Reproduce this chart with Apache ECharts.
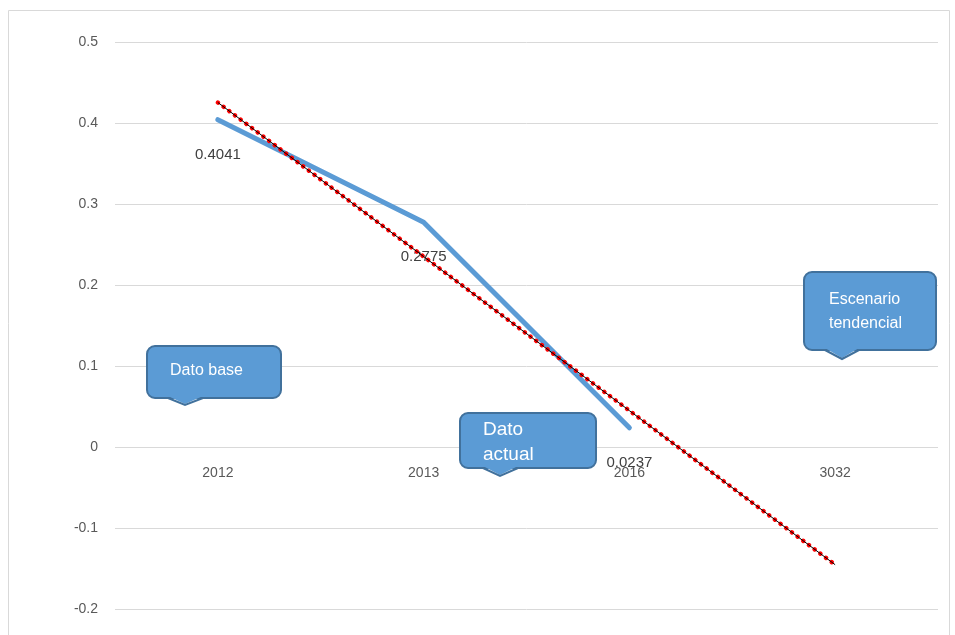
<!DOCTYPE html>
<html>
<head>
<meta charset="utf-8">
<script src="https://cdn.jsdelivr.net/npm/echarts@6/dist/echarts.min.js"></script>
<style>
  html, body { margin: 0; padding: 0; background: #fff; }
  #main { width: 955px; height: 635px; }
</style>
</head>
<body>
<div id="main"></div>
<script>
var years = ['2012', '2013', '2016', '3032'];
var indicador = [0.4041, 0.2775, 0.0237, null];
var tendencia = [0.4253, 0.2351, 0.0449, -0.1453];

var fontFam = '"Liberation Sans", "DejaVu Sans", sans-serif';

// rounded box + small tail at the bottom
function bubble(x, y, w, h, t1, tip, t2, lines, tx, ty, size, lh) {
    var b = y + h;
    var els = [
        {type: 'rect', shape: {x: x, y: y, width: w, height: h, r: 8},
            style: {fill: '#5B9BD5', stroke: '#41719C', lineWidth: 2}, z: 100},
        {type: 'polygon', shape: {points: [[t1, b - 2], [tip[0], tip[1] - 1], [t2, b - 2]]},
            style: {fill: '#5B9BD5'}, z: 101},
        {type: 'polyline', shape: {points: [[t1, b], tip, [t2, b]]},
            style: {fill: null, stroke: '#41719C', lineWidth: 2}, z: 102}
    ];
    lines.forEach(function (s, i) {
        els.push({
            type: 'text',
            x: tx, y: ty + i * lh,
            style: {text: s, fill: '#fff', font: size + 'px ' + fontFam, textVerticalAlign: 'middle'},
            z: 103
        });
    });
    return els;
}

var graphics = [{
    type: 'rect',
    shape: {x: 8.5, y: 10.5, width: 941, height: 640},
    style: {fill: 'none', stroke: '#d9d9d9', lineWidth: 1},
    z: 0
}];
graphics = graphics
    .concat(bubble(147, 346, 134, 52, 168, [185, 405], 203, ['Dato base'], 170, 371, 16, 20))
    .concat(bubble(460, 413, 136, 55, 483, [500, 476], 518, ['Dato', 'actual'], 483, 430, 19, 25))
    .concat(bubble(804, 272, 132, 78, 825, [842, 359], 859, ['Escenario', 'tendencial'], 829, 300, 16, 24));

var chart = echarts.init(document.getElementById('main'));
chart.setOption({
    animation: false,
    grid: {left: 115, right: 17, top: 42, bottom: 26, containLabel: false},
    xAxis: {
        type: 'category',
        data: years,
        boundaryGap: true,
        offset: -162,   // put the labels under the 0 line
        axisLine: {show: false, onZero: false},
        axisTick: {show: false},
        axisLabel: {color: '#595959', fontSize: 14, fontFamily: fontFam, margin: 19}
    },
    yAxis: {
        type: 'value',
        min: -0.2,
        max: 0.5,
        interval: 0.1,
        axisLine: {show: false},
        axisTick: {show: false},
        axisLabel: {
            color: '#595959', fontSize: 14, fontFamily: fontFam, margin: 17,
            formatter: function (v) { return String(Math.round(v * 10) / 10); }
        },
        splitLine: {lineStyle: {color: '#d9d9d9', width: 1}}
    },
    series: [
        {
            name: 'Tendencia puntos',
            type: 'line',
            data: tendencia,
            symbol: 'none',
            lineStyle: {color: '#ff0000', width: 4.5, type: [0.1, 7], cap: 'round'},
            z: 3
        },
        {
            name: 'Tendencia',
            type: 'line',
            data: tendencia,
            symbol: 'none',
            lineStyle: {color: '#000', width: 1},
            z: 4
        },
        {
            name: 'Indicador',
            type: 'line',
            data: indicador,
            symbol: 'circle',
            symbolSize: 1,
            itemStyle: {color: 'rgba(0,0,0,0)'},
            lineStyle: {color: '#5B9BD5', width: 5, cap: 'round', join: 'round'},
            label: {
                show: true, position: 'bottom', distance: 27,
                color: '#404040', fontSize: 15, fontFamily: fontFam,
                formatter: function (p) { return p.value; }
            },
            z: 2
        }
    ],
    graphic: graphics
});
</script>
</body>
</html>
